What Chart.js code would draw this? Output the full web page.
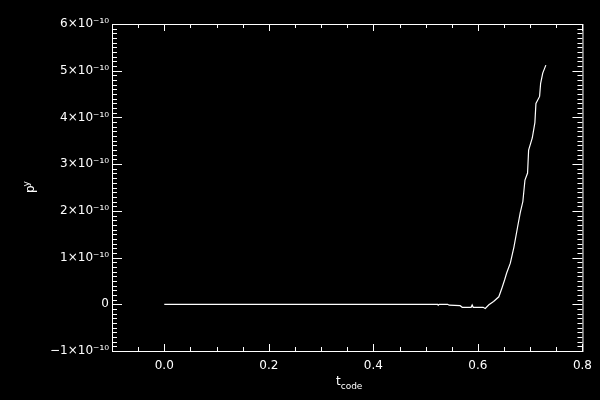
<!DOCTYPE html>
<html>
<head>
<meta charset="utf-8">
<script src="https://cdn.jsdelivr.net/npm/chart.js@4"></script>
<style>
  html, body { margin: 0; padding: 0; background: #000; }
  canvas { display: block; }
</style>
</head>
<body>
<canvas id="pyChart" width="600" height="400"></canvas>
<script>
// t_code and p^y (p^y in units of 1e-10)
const tCode = [0, 0.1, 0.2, 0.3, 0.4, 0.5, 0.523, 0.524, 0.526, 0.542, 0.545, 0.566, 0.57,
    0.587, 0.589, 0.591, 0.61, 0.614, 0.621, 0.630, 0.640, 0.646, 0.651, 0.655, 0.662,
    0.669, 0.676, 0.681, 0.686, 0.690, 0.695, 0.697, 0.704, 0.709, 0.711, 0.718, 0.720,
    0.724, 0.730];
const pY = [0, 0, 0, 0, 0, 0, 0, -0.02, 0, 0, -0.02, -0.03, -0.065,
    -0.065, -0.015, -0.065, -0.065, -0.09, -0.01, 0.06, 0.16, 0.35, 0.52, 0.67, 0.88,
    1.23, 1.66, 1.96, 2.20, 2.66, 2.81, 3.30, 3.56, 3.89, 4.30, 4.45, 4.73,
    4.95, 5.12];

const xTicks = [0, 0.2, 0.4, 0.6, 0.8];
const yTicks = [-1, 0, 1, 2, 3, 4, 5, 6];

const fontFamily = "'DejaVu Sans', sans-serif";

const yLabel = v => {
    if (v === 0) return '0';
    return (v < 0 ? '\u2212' : '') + Math.abs(v) + '\u00d710\u207b\u00b9\u2070';
};

// black background, axis box with inward IDL-style ticks, axis titles
const idlFrame = {
    id: 'idlFrame',
    beforeDraw(chart) {
        const ctx = chart.ctx;
        ctx.save();
        ctx.fillStyle = '#000';
        ctx.fillRect(0, 0, chart.width, chart.height);
        ctx.restore();
    },
    afterDatasetsDraw(chart) {
        const {ctx, chartArea: a, scales: {x, y}} = chart;
        ctx.save();
        ctx.strokeStyle = '#fff';
        ctx.lineWidth = 1;
        ctx.strokeRect(a.left + 0.5, a.top + 0.5, a.right - a.left, a.bottom - a.top);

        ctx.beginPath();
        for (let k = -2; k <= 16; k++) {
            const px = Math.round(x.getPixelForValue(k * 0.05)) + 0.5;
            const len = k % 4 === 0 ? 7 : 4;
            ctx.moveTo(px, a.bottom);
            ctx.lineTo(px, a.bottom - len);
            ctx.moveTo(px, a.top);
            ctx.lineTo(px, a.top + len);
        }
        for (let k = -10; k <= 60; k++) {
            const py = Math.round(y.getPixelForValue(k / 10)) + 0.5;
            const len = k % 10 === 0 ? 10 : 5;
            ctx.moveTo(a.left, py);
            ctx.lineTo(a.left + len, py);
            ctx.moveTo(a.right, py);
            ctx.lineTo(a.right - len, py);
        }
        ctx.stroke();

        ctx.fillStyle = '#fff';
        ctx.textBaseline = 'alphabetic';
        ctx.textAlign = 'left';
        // x title: t_code
        ctx.font = '12px ' + fontFamily;
        ctx.fillText('t', 336, 385);
        const tw = ctx.measureText('t').width;
        ctx.font = '9px ' + fontFamily;
        ctx.fillText('code', 336 + tw, 389);

        // y title: p^y (rotated)
        ctx.translate(34, 193);
        ctx.rotate(-Math.PI / 2);
        ctx.font = '12px ' + fontFamily;
        ctx.fillText('p', 0, 0);
        const pw = ctx.measureText('p').width;
        ctx.font = '9px ' + fontFamily;
        ctx.fillText('y', pw - 1, -5);
        ctx.restore();
    }
};

const ctx = document.getElementById('pyChart');

const config = {
    type: 'line',
    data: {
        datasets: [{
            data: tCode.map((t, i) => ({x: t, y: pY[i]})),
            borderColor: '#fff',
            borderWidth: 1.2,
            pointRadius: 0,
            tension: 0,
            fill: false
        }]
    },
    options: {
        responsive: false,
        devicePixelRatio: 1,
        animation: false,
        layout: {padding: {top: 24, right: 16, left: 0, bottom: 0}},
        plugins: {
            legend: {display: false},
            title: {display: false},
            tooltip: {enabled: false}
        },
        scales: {
            x: {
                type: 'linear',
                min: -0.1,
                max: 0.8,
                grid: {display: false, drawTicks: false},
                border: {display: false},
                afterBuildTicks: s => { s.ticks = xTicks.map(v => ({value: v})); },
                afterFit: s => { s.height = 49; },
                ticks: {
                    color: '#fff',
                    font: {family: fontFamily, size: 12},
                    padding: 8,
                    maxRotation: 0,
                    autoSkip: false,
                    callback: v => v.toFixed(1)
                }
            },
            y: {
                type: 'linear',
                min: -1,
                max: 6,
                grid: {display: false, drawTicks: false},
                border: {display: false},
                afterBuildTicks: s => { s.ticks = yTicks.map(v => ({value: v})); },
                afterFit: s => { s.width = 112; },
                ticks: {
                    color: '#fff',
                    font: {family: fontFamily, size: 12},
                    padding: 3,
                    autoSkip: false,
                    callback: v => yLabel(v)
                }
            }
        }
    },
    plugins: [idlFrame]
};

const chart = new Chart(ctx, config);
</script>
</body>
</html>
